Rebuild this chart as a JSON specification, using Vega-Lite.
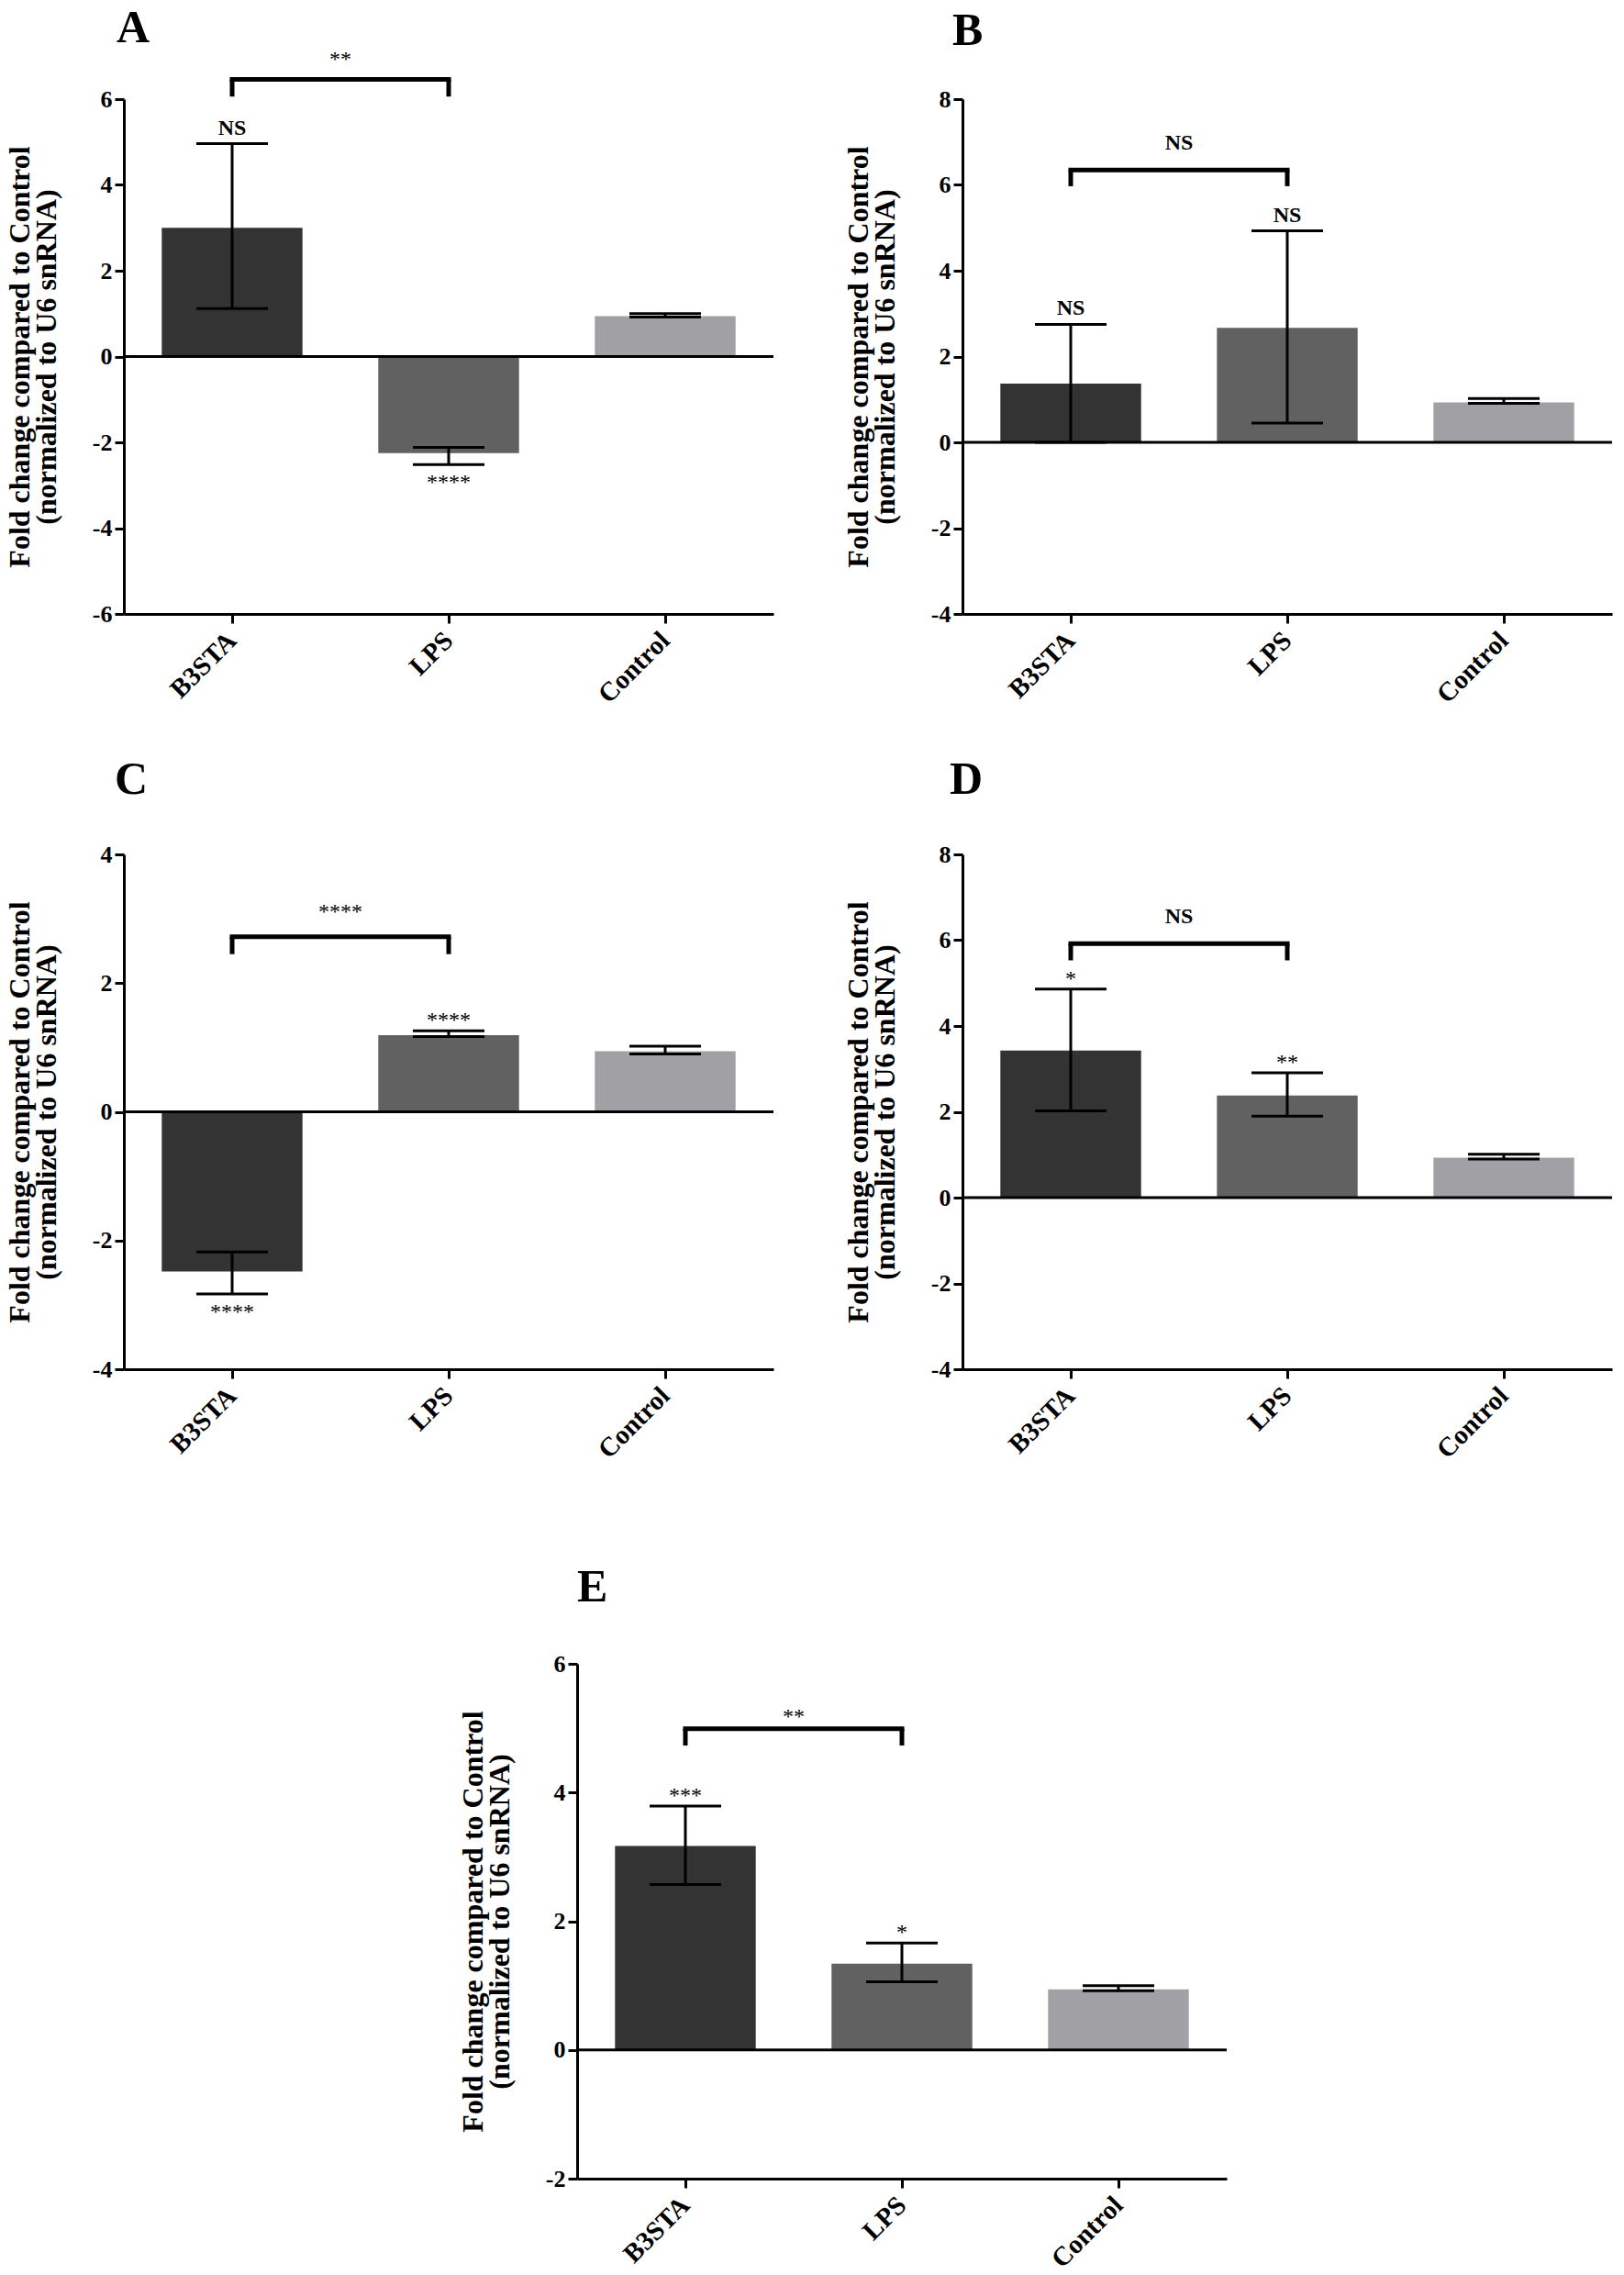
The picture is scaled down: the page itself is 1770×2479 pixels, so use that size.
{
  "$schema": "https://vega.github.io/schema/vega-lite/v6.json",
  "padding": {"left": 5, "top": 6, "right": 5, "bottom": 5},
  "background": "white",
  "datasets": {
    "bars": [
      {"panel": "A", "group": "B3STA", "value": 3.0, "lo": 1.12, "hi": 4.96, "sig": "NS"},
      {"panel": "A", "group": "LPS", "value": -2.25, "lo": -2.52, "hi": -2.12, "sig": "****"},
      {"panel": "A", "group": "Control", "value": 0.94, "lo": 0.92, "hi": 1.0, "sig": ""},
      {"panel": "B", "group": "B3STA", "value": 1.37, "lo": 0.0, "hi": 2.75, "sig": "NS"},
      {"panel": "B", "group": "LPS", "value": 2.67, "lo": 0.45, "hi": 4.93, "sig": "NS"},
      {"panel": "B", "group": "Control", "value": 0.93, "lo": 0.91, "hi": 1.02, "sig": ""},
      {"panel": "C", "group": "B3STA", "value": -2.48, "lo": -2.83, "hi": -2.18, "sig": "****"},
      {"panel": "C", "group": "LPS", "value": 1.19, "lo": 1.17, "hi": 1.26, "sig": "****"},
      {"panel": "C", "group": "Control", "value": 0.94, "lo": 0.9, "hi": 1.02, "sig": ""},
      {"panel": "D", "group": "B3STA", "value": 3.43, "lo": 2.02, "hi": 4.86, "sig": "*"},
      {"panel": "D", "group": "LPS", "value": 2.38, "lo": 1.9, "hi": 2.91, "sig": "**"},
      {"panel": "D", "group": "Control", "value": 0.93, "lo": 0.9, "hi": 1.01, "sig": ""},
      {"panel": "E", "group": "B3STA", "value": 3.17, "lo": 2.57, "hi": 3.79, "sig": "***"},
      {"panel": "E", "group": "LPS", "value": 1.34, "lo": 1.06, "hi": 1.66, "sig": "*"},
      {"panel": "E", "group": "Control", "value": 0.94, "lo": 0.92, "hi": 1.0, "sig": ""}
    ],
    "brackets": [
      {"panel": "A", "from": "B3STA", "to": "LPS", "top": 6.46, "leg": 6.06, "label": "**"},
      {"panel": "B", "from": "B3STA", "to": "LPS", "top": 6.35, "leg": 5.97, "label": "NS"},
      {"panel": "C", "from": "B3STA", "to": "LPS", "top": 2.72, "leg": 2.45, "label": "****"},
      {"panel": "D", "from": "B3STA", "to": "LPS", "top": 5.92, "leg": 5.53, "label": "NS"},
      {"panel": "E", "from": "B3STA", "to": "LPS", "top": 4.99, "leg": 4.73, "label": "**"}
    ]
  },
  "config": {
    "view": {"stroke": null},
    "font": "Liberation Serif",
    "title": {"font": "Liberation Serif", "fontSize": 50, "fontWeight": "bold", "color": "black", "anchor": "start", "frame": "group", "baseline": "alphabetic"},
    "axis": {"domainColor": "black", "domainWidth": 3, "tickColor": "black", "tickWidth": 3, "tickSize": 10, "labelColor": "black", "labelFont": "Liberation Serif", "labelFontWeight": "bold", "grid": false, "titleColor": "black", "titleFont": "Liberation Serif", "titleFontWeight": "bold"},
    "axisY": {"labelFontSize": 26, "labelPadding": 3, "titleFontSize": 32, "titlePadding": 33, "titleLineHeight": 29},
    "axisX": {"labelAngle": -45, "labelFontSize": 29, "labelAlign": "right", "labelBaseline": "middle", "labelPadding": 14}
  },
  "spacing": 110,
  "vconcat": [
    {
      "spacing": 53,
      "vconcat": [
        {
          "hconcat": [
            {
              "width": 708, "height": 561,
              "title": {"text": "A", "offset": -3, "dx": -8},
              "layer": [
                {"data": {"name": "bars"}, "transform": [{"filter": "datum.panel === 'A'"}], "mark": {"type": "bar"},
                 "encoding": {
                   "x": {"field": "group", "type": "nominal", "scale": {"domain": ["B3STA", "LPS", "Control"], "paddingInner": 0.35, "paddingOuter": 0.175}, "axis": {"title": null}},
                   "y": {"field": "value", "type": "quantitative", "scale": {"domain": [-6, 6], "nice": false, "zero": false}, "axis": {"values": [-6, -4, -2, 0, 2, 4, 6], "labelExpr": "datum.value < 0 ? '-' + abs(datum.value) : '' + datum.value", "title": ["Fold change compared to Control", "(normalized to U6 snRNA)"]}},
                   "color": {"field": "group", "type": "nominal", "scale": {"domain": ["B3STA", "LPS", "Control"], "range": ["#333333", "#616161", "#a1a0a5"]}, "legend": null}
                 }},
                {"data": {"name": "bars"}, "transform": [{"filter": "datum.panel === 'A'"}], "mark": {"type": "rule", "strokeWidth": 3, "color": "black"},
                 "encoding": {"x": {"field": "group", "type": "nominal", "title": null}, "y": {"field": "lo", "type": "quantitative"}, "y2": {"field": "hi"}}},
                {"data": {"name": "bars"}, "transform": [{"filter": "datum.panel === 'A'"}], "mark": {"type": "tick", "size": 78, "thickness": 3, "color": "black", "opacity": 1},
                 "encoding": {"x": {"field": "group", "type": "nominal", "title": null}, "y": {"field": "lo", "type": "quantitative"}}},
                {"data": {"name": "bars"}, "transform": [{"filter": "datum.panel === 'A'"}], "mark": {"type": "tick", "size": 78, "thickness": 3, "color": "black", "opacity": 1},
                 "encoding": {"x": {"field": "group", "type": "nominal", "title": null}, "y": {"field": "hi", "type": "quantitative"}}},
                {"data": {"values": [{}]}, "mark": {"type": "rule", "strokeWidth": 3, "color": "black"}, "encoding": {"y": {"datum": 0}}},
                {"data": {"name": "bars"}, "transform": [{"filter": "datum.panel === 'A' && datum.value > 0 && datum.sig === 'NS'"}], "mark": {"type": "text", "baseline": "alphabetic", "dy": -10, "fontSize": 24, "fontWeight": "bold"},
                 "encoding": {"x": {"field": "group", "type": "nominal", "title": null}, "y": {"field": "hi", "type": "quantitative"}, "text": {"field": "sig"}}},
                {"data": {"name": "bars"}, "transform": [{"filter": "datum.panel === 'A' && datum.value > 0 && datum.sig !== 'NS' && datum.sig !== ''"}], "mark": {"type": "text", "baseline": "alphabetic", "dy": -4, "fontSize": 24},
                 "encoding": {"x": {"field": "group", "type": "nominal", "title": null}, "y": {"field": "hi", "type": "quantitative"}, "text": {"field": "sig"}}},
                {"data": {"name": "bars"}, "transform": [{"filter": "datum.panel === 'A' && datum.value < 0 && datum.sig !== ''"}], "mark": {"type": "text", "baseline": "alphabetic", "dy": 27, "fontSize": 24},
                 "encoding": {"x": {"field": "group", "type": "nominal", "title": null}, "y": {"field": "lo", "type": "quantitative"}, "text": {"field": "sig"}}},
                {"data": {"name": "brackets"}, "transform": [{"filter": "datum.panel === 'A'"}], "mark": {"type": "rule", "strokeWidth": 5, "color": "black", "strokeCap": "square"},
                 "encoding": {"x": {"field": "from", "type": "nominal", "title": null}, "x2": {"field": "to"}, "y": {"field": "top", "type": "quantitative"}}},
                {"data": {"name": "brackets"}, "transform": [{"filter": "datum.panel === 'A'"}], "mark": {"type": "rule", "strokeWidth": 5, "color": "black"},
                 "encoding": {"x": {"field": "from", "type": "nominal", "title": null}, "y": {"field": "leg", "type": "quantitative"}, "y2": {"field": "top"}}},
                {"data": {"name": "brackets"}, "transform": [{"filter": "datum.panel === 'A'"}], "mark": {"type": "rule", "strokeWidth": 5, "color": "black"},
                 "encoding": {"x": {"field": "to", "type": "nominal", "title": null}, "y": {"field": "leg", "type": "quantitative"}, "y2": {"field": "top"}}},
                {"data": {"name": "brackets"}, "transform": [{"filter": "datum.panel === 'A'"}], "mark": {"type": "text", "baseline": "alphabetic", "dx": -118, "dy": -14, "fontSize": 24},
                 "encoding": {"x": {"field": "to", "type": "nominal", "title": null}, "y": {"field": "top", "type": "quantitative"}, "text": {"field": "label"}}}
              ]
            },
            {
              "width": 708, "height": 561,
              "title": {"text": "B", "offset": 36, "dx": -11},
              "layer": [
                {"data": {"name": "bars"}, "transform": [{"filter": "datum.panel === 'B'"}], "mark": {"type": "bar"},
                 "encoding": {
                   "x": {"field": "group", "type": "nominal", "scale": {"domain": ["B3STA", "LPS", "Control"], "paddingInner": 0.35, "paddingOuter": 0.175}, "axis": {"title": null}},
                   "y": {"field": "value", "type": "quantitative", "scale": {"domain": [-4, 8], "nice": false, "zero": false}, "axis": {"values": [-4, -2, 0, 2, 4, 6, 8], "labelExpr": "datum.value < 0 ? '-' + abs(datum.value) : '' + datum.value", "title": ["Fold change compared to Control", "(normalized to U6 snRNA)"]}},
                   "color": {"field": "group", "type": "nominal", "scale": {"domain": ["B3STA", "LPS", "Control"], "range": ["#333333", "#616161", "#a1a0a5"]}, "legend": null}
                 }},
                {"data": {"name": "bars"}, "transform": [{"filter": "datum.panel === 'B'"}], "mark": {"type": "rule", "strokeWidth": 3, "color": "black"},
                 "encoding": {"x": {"field": "group", "type": "nominal", "title": null}, "y": {"field": "lo", "type": "quantitative"}, "y2": {"field": "hi"}}},
                {"data": {"name": "bars"}, "transform": [{"filter": "datum.panel === 'B'"}], "mark": {"type": "tick", "size": 78, "thickness": 3, "color": "black", "opacity": 1},
                 "encoding": {"x": {"field": "group", "type": "nominal", "title": null}, "y": {"field": "lo", "type": "quantitative"}}},
                {"data": {"name": "bars"}, "transform": [{"filter": "datum.panel === 'B'"}], "mark": {"type": "tick", "size": 78, "thickness": 3, "color": "black", "opacity": 1},
                 "encoding": {"x": {"field": "group", "type": "nominal", "title": null}, "y": {"field": "hi", "type": "quantitative"}}},
                {"data": {"values": [{}]}, "mark": {"type": "rule", "strokeWidth": 3, "color": "black"}, "encoding": {"y": {"datum": 0}}},
                {"data": {"name": "bars"}, "transform": [{"filter": "datum.panel === 'B' && datum.value > 0 && datum.sig === 'NS'"}], "mark": {"type": "text", "baseline": "alphabetic", "dy": -10, "fontSize": 24, "fontWeight": "bold"},
                 "encoding": {"x": {"field": "group", "type": "nominal", "title": null}, "y": {"field": "hi", "type": "quantitative"}, "text": {"field": "sig"}}},
                {"data": {"name": "brackets"}, "transform": [{"filter": "datum.panel === 'B'"}], "mark": {"type": "rule", "strokeWidth": 5, "color": "black", "strokeCap": "square"},
                 "encoding": {"x": {"field": "from", "type": "nominal", "title": null}, "x2": {"field": "to"}, "y": {"field": "top", "type": "quantitative"}}},
                {"data": {"name": "brackets"}, "transform": [{"filter": "datum.panel === 'B'"}], "mark": {"type": "rule", "strokeWidth": 5, "color": "black"},
                 "encoding": {"x": {"field": "from", "type": "nominal", "title": null}, "y": {"field": "leg", "type": "quantitative"}, "y2": {"field": "top"}}},
                {"data": {"name": "brackets"}, "transform": [{"filter": "datum.panel === 'B'"}], "mark": {"type": "rule", "strokeWidth": 5, "color": "black"},
                 "encoding": {"x": {"field": "to", "type": "nominal", "title": null}, "y": {"field": "leg", "type": "quantitative"}, "y2": {"field": "top"}}},
                {"data": {"name": "brackets"}, "transform": [{"filter": "datum.panel === 'B'"}], "mark": {"type": "text", "baseline": "alphabetic", "dx": -118, "dy": -22, "fontSize": 24, "fontWeight": "bold"},
                 "encoding": {"x": {"field": "to", "type": "nominal", "title": null}, "y": {"field": "top", "type": "quantitative"}, "text": {"field": "label"}}}
              ]
            }
          ],
          "spacing": 206,
          "bounds": "flush"
        },
        {
          "hconcat": [
            {
              "width": 708, "height": 561,
              "title": {"text": "C", "offset": 43, "dx": -10},
              "layer": [
                {"data": {"name": "bars"}, "transform": [{"filter": "datum.panel === 'C'"}], "mark": {"type": "bar"},
                 "encoding": {
                   "x": {"field": "group", "type": "nominal", "scale": {"domain": ["B3STA", "LPS", "Control"], "paddingInner": 0.35, "paddingOuter": 0.175}, "axis": {"title": null}},
                   "y": {"field": "value", "type": "quantitative", "scale": {"domain": [-4, 4], "nice": false, "zero": false}, "axis": {"values": [-4, -2, 0, 2, 4], "labelExpr": "datum.value < 0 ? '-' + abs(datum.value) : '' + datum.value", "title": ["Fold change compared to Control", "(normalized to U6 snRNA)"]}},
                   "color": {"field": "group", "type": "nominal", "scale": {"domain": ["B3STA", "LPS", "Control"], "range": ["#333333", "#616161", "#a1a0a5"]}, "legend": null}
                 }},
                {"data": {"name": "bars"}, "transform": [{"filter": "datum.panel === 'C'"}], "mark": {"type": "rule", "strokeWidth": 3, "color": "black"},
                 "encoding": {"x": {"field": "group", "type": "nominal", "title": null}, "y": {"field": "lo", "type": "quantitative"}, "y2": {"field": "hi"}}},
                {"data": {"name": "bars"}, "transform": [{"filter": "datum.panel === 'C'"}], "mark": {"type": "tick", "size": 78, "thickness": 3, "color": "black", "opacity": 1},
                 "encoding": {"x": {"field": "group", "type": "nominal", "title": null}, "y": {"field": "lo", "type": "quantitative"}}},
                {"data": {"name": "bars"}, "transform": [{"filter": "datum.panel === 'C'"}], "mark": {"type": "tick", "size": 78, "thickness": 3, "color": "black", "opacity": 1},
                 "encoding": {"x": {"field": "group", "type": "nominal", "title": null}, "y": {"field": "hi", "type": "quantitative"}}},
                {"data": {"values": [{}]}, "mark": {"type": "rule", "strokeWidth": 3, "color": "black"}, "encoding": {"y": {"datum": 0}}},
                {"data": {"name": "bars"}, "transform": [{"filter": "datum.panel === 'C' && datum.value > 0 && datum.sig !== 'NS' && datum.sig !== ''"}], "mark": {"type": "text", "baseline": "alphabetic", "dy": -4, "fontSize": 24},
                 "encoding": {"x": {"field": "group", "type": "nominal", "title": null}, "y": {"field": "hi", "type": "quantitative"}, "text": {"field": "sig"}}},
                {"data": {"name": "bars"}, "transform": [{"filter": "datum.panel === 'C' && datum.value < 0 && datum.sig !== ''"}], "mark": {"type": "text", "baseline": "alphabetic", "dy": 27, "fontSize": 24},
                 "encoding": {"x": {"field": "group", "type": "nominal", "title": null}, "y": {"field": "lo", "type": "quantitative"}, "text": {"field": "sig"}}},
                {"data": {"name": "brackets"}, "transform": [{"filter": "datum.panel === 'C'"}], "mark": {"type": "rule", "strokeWidth": 5, "color": "black", "strokeCap": "square"},
                 "encoding": {"x": {"field": "from", "type": "nominal", "title": null}, "x2": {"field": "to"}, "y": {"field": "top", "type": "quantitative"}}},
                {"data": {"name": "brackets"}, "transform": [{"filter": "datum.panel === 'C'"}], "mark": {"type": "rule", "strokeWidth": 5, "color": "black"},
                 "encoding": {"x": {"field": "from", "type": "nominal", "title": null}, "y": {"field": "leg", "type": "quantitative"}, "y2": {"field": "top"}}},
                {"data": {"name": "brackets"}, "transform": [{"filter": "datum.panel === 'C'"}], "mark": {"type": "rule", "strokeWidth": 5, "color": "black"},
                 "encoding": {"x": {"field": "to", "type": "nominal", "title": null}, "y": {"field": "leg", "type": "quantitative"}, "y2": {"field": "top"}}},
                {"data": {"name": "brackets"}, "transform": [{"filter": "datum.panel === 'C'"}], "mark": {"type": "text", "baseline": "alphabetic", "dx": -118, "dy": -20, "fontSize": 24},
                 "encoding": {"x": {"field": "to", "type": "nominal", "title": null}, "y": {"field": "top", "type": "quantitative"}, "text": {"field": "label"}}}
              ]
            },
            {
              "width": 708, "height": 561,
              "title": {"text": "D", "offset": 43, "dx": -14},
              "layer": [
                {"data": {"name": "bars"}, "transform": [{"filter": "datum.panel === 'D'"}], "mark": {"type": "bar"},
                 "encoding": {
                   "x": {"field": "group", "type": "nominal", "scale": {"domain": ["B3STA", "LPS", "Control"], "paddingInner": 0.35, "paddingOuter": 0.175}, "axis": {"title": null}},
                   "y": {"field": "value", "type": "quantitative", "scale": {"domain": [-4, 8], "nice": false, "zero": false}, "axis": {"values": [-4, -2, 0, 2, 4, 6, 8], "labelExpr": "datum.value < 0 ? '-' + abs(datum.value) : '' + datum.value", "title": ["Fold change compared to Control", "(normalized to U6 snRNA)"]}},
                   "color": {"field": "group", "type": "nominal", "scale": {"domain": ["B3STA", "LPS", "Control"], "range": ["#333333", "#616161", "#a1a0a5"]}, "legend": null}
                 }},
                {"data": {"name": "bars"}, "transform": [{"filter": "datum.panel === 'D'"}], "mark": {"type": "rule", "strokeWidth": 3, "color": "black"},
                 "encoding": {"x": {"field": "group", "type": "nominal", "title": null}, "y": {"field": "lo", "type": "quantitative"}, "y2": {"field": "hi"}}},
                {"data": {"name": "bars"}, "transform": [{"filter": "datum.panel === 'D'"}], "mark": {"type": "tick", "size": 78, "thickness": 3, "color": "black", "opacity": 1},
                 "encoding": {"x": {"field": "group", "type": "nominal", "title": null}, "y": {"field": "lo", "type": "quantitative"}}},
                {"data": {"name": "bars"}, "transform": [{"filter": "datum.panel === 'D'"}], "mark": {"type": "tick", "size": 78, "thickness": 3, "color": "black", "opacity": 1},
                 "encoding": {"x": {"field": "group", "type": "nominal", "title": null}, "y": {"field": "hi", "type": "quantitative"}}},
                {"data": {"values": [{}]}, "mark": {"type": "rule", "strokeWidth": 3, "color": "black"}, "encoding": {"y": {"datum": 0}}},
                {"data": {"name": "bars"}, "transform": [{"filter": "datum.panel === 'D' && datum.value > 0 && datum.sig !== 'NS' && datum.sig !== ''"}], "mark": {"type": "text", "baseline": "alphabetic", "dy": -4, "fontSize": 24},
                 "encoding": {"x": {"field": "group", "type": "nominal", "title": null}, "y": {"field": "hi", "type": "quantitative"}, "text": {"field": "sig"}}},
                {"data": {"name": "brackets"}, "transform": [{"filter": "datum.panel === 'D'"}], "mark": {"type": "rule", "strokeWidth": 5, "color": "black", "strokeCap": "square"},
                 "encoding": {"x": {"field": "from", "type": "nominal", "title": null}, "x2": {"field": "to"}, "y": {"field": "top", "type": "quantitative"}}},
                {"data": {"name": "brackets"}, "transform": [{"filter": "datum.panel === 'D'"}], "mark": {"type": "rule", "strokeWidth": 5, "color": "black"},
                 "encoding": {"x": {"field": "from", "type": "nominal", "title": null}, "y": {"field": "leg", "type": "quantitative"}, "y2": {"field": "top"}}},
                {"data": {"name": "brackets"}, "transform": [{"filter": "datum.panel === 'D'"}], "mark": {"type": "rule", "strokeWidth": 5, "color": "black"},
                 "encoding": {"x": {"field": "to", "type": "nominal", "title": null}, "y": {"field": "leg", "type": "quantitative"}, "y2": {"field": "top"}}},
                {"data": {"name": "brackets"}, "transform": [{"filter": "datum.panel === 'D'"}], "mark": {"type": "text", "baseline": "alphabetic", "dx": -118, "dy": -22, "fontSize": 24, "fontWeight": "bold"},
                 "encoding": {"x": {"field": "to", "type": "nominal", "title": null}, "y": {"field": "top", "type": "quantitative"}, "text": {"field": "label"}}}
              ]
            }
          ],
          "spacing": 206,
          "bounds": "flush"
        }
      ]
    },
    {
      "hconcat": [
        {"width": 494, "height": 561, "data": {"values": [{}]}, "mark": {"type": "point", "opacity": 0}},
        {
          "width": 708, "height": 561,
          "title": {"text": "E", "offset": 45, "dx": 0},
          "layer": [
            {"data": {"name": "bars"}, "transform": [{"filter": "datum.panel === 'E'"}], "mark": {"type": "bar"},
             "encoding": {
               "x": {"field": "group", "type": "nominal", "scale": {"domain": ["B3STA", "LPS", "Control"], "paddingInner": 0.35, "paddingOuter": 0.175}, "axis": {"title": null}},
               "y": {"field": "value", "type": "quantitative", "scale": {"domain": [-2, 6], "nice": false, "zero": false}, "axis": {"values": [-2, 0, 2, 4, 6], "labelExpr": "datum.value < 0 ? '-' + abs(datum.value) : '' + datum.value", "title": ["Fold change compared to Control", "(normalized to U6 snRNA)"]}},
               "color": {"field": "group", "type": "nominal", "scale": {"domain": ["B3STA", "LPS", "Control"], "range": ["#333333", "#616161", "#a1a0a5"]}, "legend": null}
             }},
            {"data": {"name": "bars"}, "transform": [{"filter": "datum.panel === 'E'"}], "mark": {"type": "rule", "strokeWidth": 3, "color": "black"},
             "encoding": {"x": {"field": "group", "type": "nominal", "title": null}, "y": {"field": "lo", "type": "quantitative"}, "y2": {"field": "hi"}}},
            {"data": {"name": "bars"}, "transform": [{"filter": "datum.panel === 'E'"}], "mark": {"type": "tick", "size": 78, "thickness": 3, "color": "black", "opacity": 1},
             "encoding": {"x": {"field": "group", "type": "nominal", "title": null}, "y": {"field": "lo", "type": "quantitative"}}},
            {"data": {"name": "bars"}, "transform": [{"filter": "datum.panel === 'E'"}], "mark": {"type": "tick", "size": 78, "thickness": 3, "color": "black", "opacity": 1},
             "encoding": {"x": {"field": "group", "type": "nominal", "title": null}, "y": {"field": "hi", "type": "quantitative"}}},
            {"data": {"values": [{}]}, "mark": {"type": "rule", "strokeWidth": 3, "color": "black"}, "encoding": {"y": {"datum": 0}}},
            {"data": {"name": "bars"}, "transform": [{"filter": "datum.panel === 'E' && datum.value > 0 && datum.sig !== 'NS' && datum.sig !== ''"}], "mark": {"type": "text", "baseline": "alphabetic", "dy": -4, "fontSize": 24},
             "encoding": {"x": {"field": "group", "type": "nominal", "title": null}, "y": {"field": "hi", "type": "quantitative"}, "text": {"field": "sig"}}},
            {"data": {"name": "brackets"}, "transform": [{"filter": "datum.panel === 'E'"}], "mark": {"type": "rule", "strokeWidth": 5, "color": "black", "strokeCap": "square"},
             "encoding": {"x": {"field": "from", "type": "nominal", "title": null}, "x2": {"field": "to"}, "y": {"field": "top", "type": "quantitative"}}},
            {"data": {"name": "brackets"}, "transform": [{"filter": "datum.panel === 'E'"}], "mark": {"type": "rule", "strokeWidth": 5, "color": "black"},
             "encoding": {"x": {"field": "from", "type": "nominal", "title": null}, "y": {"field": "leg", "type": "quantitative"}, "y2": {"field": "top"}}},
            {"data": {"name": "brackets"}, "transform": [{"filter": "datum.panel === 'E'"}], "mark": {"type": "rule", "strokeWidth": 5, "color": "black"},
             "encoding": {"x": {"field": "to", "type": "nominal", "title": null}, "y": {"field": "leg", "type": "quantitative"}, "y2": {"field": "top"}}},
            {"data": {"name": "brackets"}, "transform": [{"filter": "datum.panel === 'E'"}], "mark": {"type": "text", "baseline": "alphabetic", "dx": -118, "dy": -6, "fontSize": 24},
             "encoding": {"x": {"field": "to", "type": "nominal", "title": null}, "y": {"field": "top", "type": "quantitative"}, "text": {"field": "label"}}}
          ]
        }
      ],
      "spacing": 0,
      "bounds": "flush"
    }
  ]
}
